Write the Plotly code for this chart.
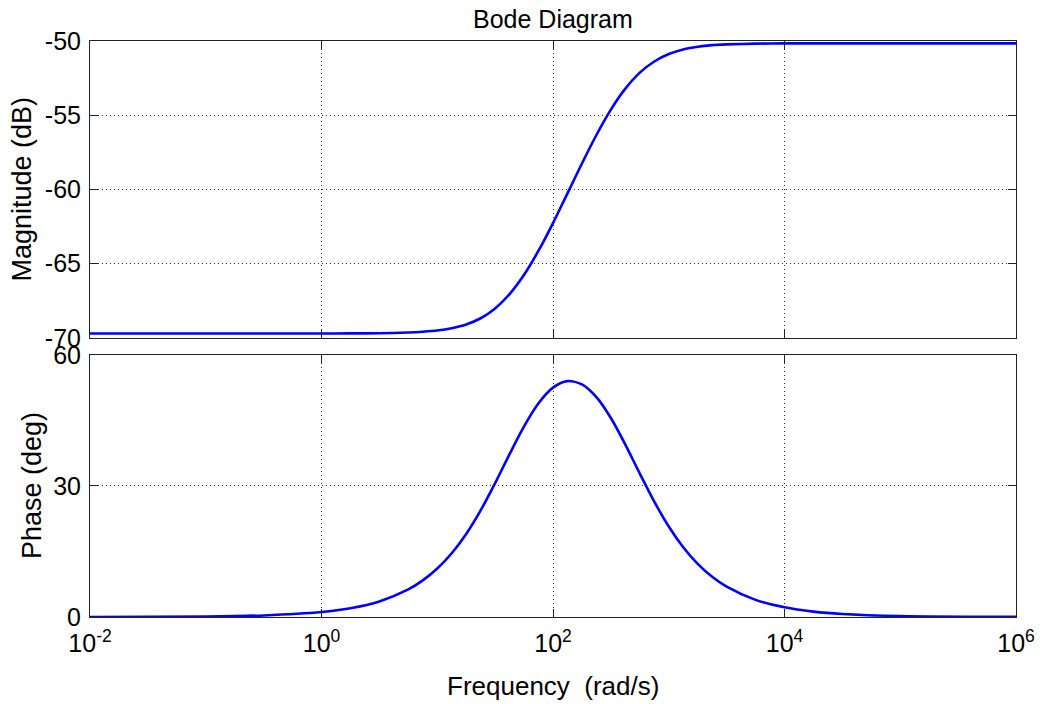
import plotly.graph_objects as go
from plotly.subplots import make_subplots

# Frequencies (rad/s), read as log10 positions on the x axis
log_freq = [-2, -1, -0.5, 0, 0.25, 0.5, 0.75, 0.875, 1.0, 1.125, 1.25, 1.375, 1.5,
            1.625, 1.75, 1.875, 2.0, 2.125, 2.25, 2.375, 2.5, 2.625, 2.75, 2.875,
            3.0, 3.125, 3.25, 3.375, 3.5, 3.75, 4.0, 4.25, 4.5, 5.0, 6.0]
freq = [10 ** v for v in log_freq]

magnitude_db = [-69.70, -69.70, -69.70, -69.70, -69.69, -69.68, -69.63, -69.58, -69.50,
                -69.34, -69.09, -68.67, -68.01, -67.04, -65.74, -64.12, -62.26, -60.26,
                -58.25, -56.33, -54.62, -53.21, -52.13, -51.38, -50.88, -50.57, -50.39,
                -50.28, -50.23, -50.18, -50.16, -50.16, -50.16, -50.16, -50.16]

phase_deg = [0.01, 0.11, 0.36, 1.13, 2.01, 3.57, 6.31, 8.38, 11.09, 14.60, 19.03, 24.43,
             30.66, 37.30, 43.65, 48.94, 52.52, 54.01, 53.26, 50.34, 45.56, 39.48, 32.85,
             26.42, 20.71, 15.96, 12.16, 9.20, 6.94, 3.92, 2.21, 1.24, 0.70, 0.22, 0.02]

x_tickvals = [1e-2, 1e0, 1e2, 1e4, 1e6]
x_ticktext = ["10<sup>-2</sup>", "10<sup>0</sup>", "10<sup>2</sup>", "10<sup>4</sup>", "10<sup>6</sup>"]
mag_ticks = [-70, -65, -60, -55, -50]
mag_ticktext = ["-70", "-65", "-60", "-55", "-50"]
phase_ticks = [0, 30, 60]
phase_ticktext = ["0", "30", "60"]

FONT = "Liberation Sans, Arial, sans-serif"
FS = 25

fig = make_subplots(rows=2, cols=1, shared_xaxes=False, vertical_spacing=0.03)

fig.add_trace(go.Scatter(x=freq, y=magnitude_db, mode="lines",
                         line=dict(color="#0000FF", width=2.6, shape="spline", smoothing=0.8),
                         showlegend=False), row=1, col=1)
fig.add_trace(go.Scatter(x=freq, y=phase_deg, mode="lines",
                         line=dict(color="#0000FF", width=2.6, shape="spline", smoothing=0.8),
                         showlegend=False), row=2, col=1)

common_axis = dict(showline=True, linecolor="#222", linewidth=1, mirror="ticks",
                   ticks="inside", ticklen=8, tickcolor="#222",
                   showgrid=True, gridcolor="#333", gridwidth=1, griddash="1px,3px",
                   zeroline=False, tickfont=dict(family=FONT, size=FS, color="black"))

fig.update_xaxes(type="log", range=[-2, 6], tickvals=x_tickvals, ticktext=x_ticktext,
                 ticklabelstandoff=4, **common_axis)
fig.update_xaxes(showticklabels=False, row=1, col=1)
fig.update_xaxes(matches="x", row=2, col=1)

fig.update_yaxes(range=[-70, -50], tickvals=mag_ticks, ticktext=mag_ticktext,
                 ticklabelstandoff=3, row=1, col=1, **common_axis)
fig.update_yaxes(range=[0, 60], tickvals=phase_ticks, ticktext=phase_ticktext,
                 ticklabelstandoff=3, row=2, col=1, **common_axis)

fig.update_layout(
    width=1036, height=696,
    margin=dict(l=82, r=28, t=33, b=87, autoexpand=False),
    paper_bgcolor="white", plot_bgcolor="white",
    font=dict(family=FONT, size=FS, color="black"),
    xaxis=dict(domain=[0, 1]), xaxis2=dict(domain=[0, 1]),
    yaxis=dict(domain=[0.4844, 1.0]),
    yaxis2=dict(domain=[0.0, 0.4549]),
    annotations=[
        dict(text="Bode Diagram", xref="paper", yref="paper", x=0.5, y=1.0,
             xanchor="center", yanchor="middle", yshift=22, showarrow=False,
             font=dict(family=FONT, size=25, color="black")),
        dict(text="Frequency  (rad/s)", xref="paper", yref="paper", x=0.5, y=0,
             xanchor="center", yanchor="middle", yshift=-69, showarrow=False,
             font=dict(family=FONT, size=26, color="black")),
        dict(text="Magnitude (dB)", xref="paper", yref="paper", x=0, y=0.7422,
             xanchor="center", yanchor="middle", xshift=-68, textangle=-90,
             showarrow=False, font=dict(family=FONT, size=27, color="black")),
        dict(text="Phase (deg)", xref="paper", yref="paper", x=0, y=0.2274,
             xanchor="center", yanchor="middle", xshift=-58, textangle=-90,
             showarrow=False, font=dict(family=FONT, size=27, color="black")),
    ],
)

fig.write_html("out.html")
